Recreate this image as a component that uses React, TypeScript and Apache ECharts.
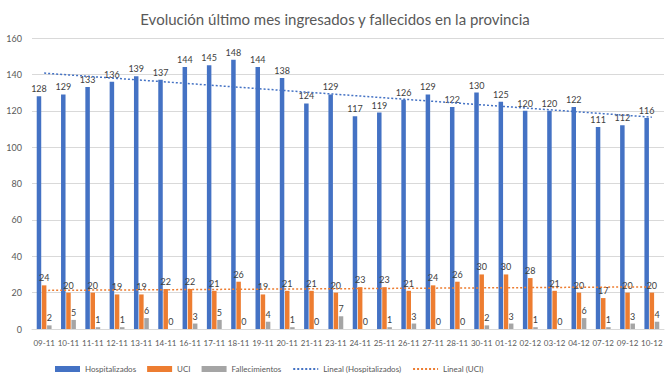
import React, { useEffect, useRef } from "react";
import * as echarts from "echarts";

const categories = ["09-11","10-11","11-11","12-11","13-11","14-11","16-11","17-11","18-11","19-11","20-11","21-11","23-11","24-11","25-11","26-11","27-11","28-11","30-11","01-12","02-12","03-12","04-12","07-12","09-12","10-12"];
const hospitalizados = [128,129,133,136,139,137,144,145,148,144,138,124,129,117,119,126,129,122,130,125,120,120,122,111,112,116];
const uci = [24,20,20,19,19,22,22,21,26,19,21,21,20,23,23,21,24,26,30,30,28,21,20,17,20,20];
const fallecimientos = [2,5,1,1,6,0,3,5,0,4,1,0,7,0,1,3,0,0,2,3,1,0,6,1,3,4];
const yTicks = [0, 20, 40, 60, 80, 100, 120, 140, 160];

function linearFit(values: number[]): number[] {
  const n = values.length;
  let sx = 0, sy = 0, sxy = 0, sxx = 0;
  values.forEach((v, i) => { sx += i; sy += v; sxy += i * v; sxx += i * i; });
  const b = (n * sxy - sx * sy) / (n * sxx - sx * sx);
  const a = (sy - b * sx) / n;
  return values.map((_, i) => a + b * i);
}

const FONT = "Lato, 'Noto Sans', sans-serif";

export default function App() {
  const ref = useRef<HTMLDivElement>(null);
  useEffect(() => {
    if (!ref.current) return;
    const chart = echarts.init(ref.current, null, { renderer: "svg" });
    const labelStyle = { show: true, position: "top" as const, distance: 3, fontSize: 9, color: "#404040", fontFamily: FONT };
    chart.setOption({
      animation: false,
      backgroundColor: "#ffffff",
      title: {
        text: "Evolución último mes ingresados y fallecidos en la provincia",
        left: "center",
        top: 6,
        textStyle: { fontSize: 15, fontWeight: "normal", color: "#595959", fontFamily: FONT },
      },
      legend: {
        left: 50,
        top: 360,
        itemWidth: 25,
        itemHeight: 6,
        itemGap: 11,
        textStyle: { fontSize: 8, color: "#595959", fontFamily: FONT },
        data: [
          { name: "Hospitalizados", icon: "rect" },
          { name: "UCI", icon: "rect" },
          { name: "Fallecimientos", icon: "rect" },
          { name: "Lineal (Hospitalizados)", itemStyle: { opacity: 0 } },
          { name: "Lineal (UCI)", itemStyle: { opacity: 0 } },
        ],
      },
      grid: { left: 32, right: 6, top: 38, bottom: 48 },
      xAxis: {
        type: "category",
        data: categories,
        axisLine: { lineStyle: { color: "#D9D9D9" } },
        axisTick: { show: false },
        axisLabel: { interval: 0, fontSize: 8, color: "#595959", fontFamily: FONT, margin: 10 },
      },
      yAxis: {
        type: "value",
        min: yTicks[0],
        max: yTicks[yTicks.length - 1],
        interval: 20,
        axisLine: { show: false },
        axisTick: { show: false },
        splitLine: { lineStyle: { color: "#D9D9D9" } },
        axisLabel: { fontSize: 9, color: "#595959", fontFamily: FONT, margin: 10 },
      },
      series: [
        { name: "Hospitalizados", type: "bar", data: hospitalizados, barWidth: 4.5, barGap: "15%", itemStyle: { color: "#4472C4" }, label: labelStyle },
        { name: "UCI", type: "bar", data: uci, barWidth: 4.5, barGap: "15%", itemStyle: { color: "#ED7D31" }, label: labelStyle },
        { name: "Fallecimientos", type: "bar", data: fallecimientos, barWidth: 4.5, barGap: "15%", itemStyle: { color: "#A5A5A5" }, label: labelStyle },
        {
          name: "Lineal (Hospitalizados)", type: "line", data: linearFit(hospitalizados), symbol: "none",
          lineStyle: { color: "#4472C4", width: 1.5, type: [2, 2] }, itemStyle: { color: "#4472C4" }, z: 5,
        },
        {
          name: "Lineal (UCI)", type: "line", data: linearFit(uci), symbol: "none",
          lineStyle: { color: "#ED7D31", width: 1.5, type: [2, 2] }, itemStyle: { color: "#ED7D31" }, z: 5,
        },
      ],
    });
    return () => chart.dispose();
  }, []);
  return <div ref={ref} style={{ width: 670, height: 377, position: "absolute", left: 0, top: 0 }} />;
}
